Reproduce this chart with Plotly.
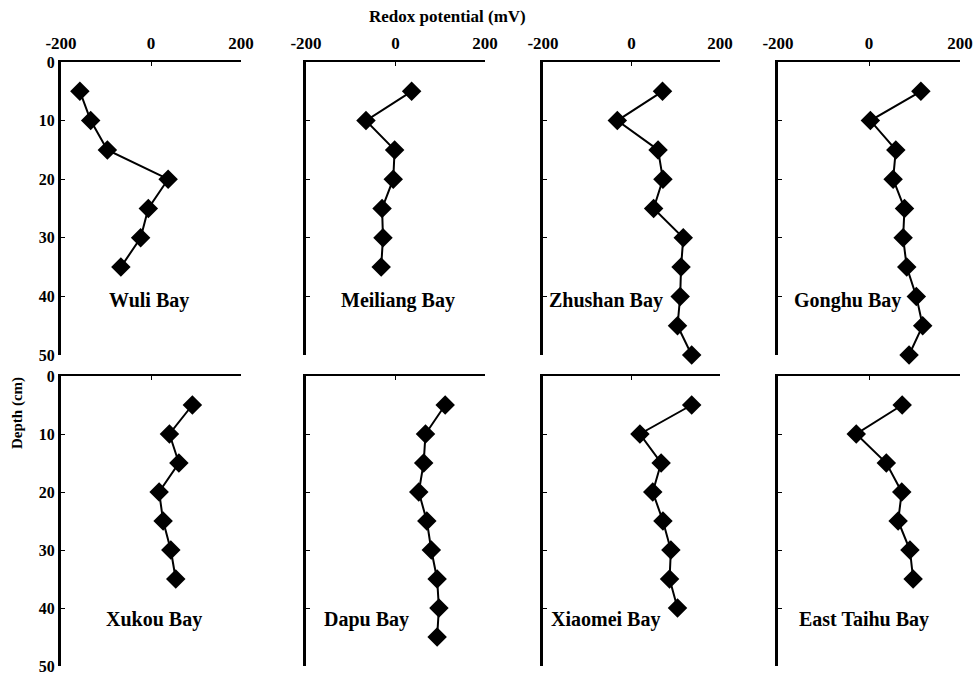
import plotly.graph_objects as go

# Redox potential (mV) profiles against sediment depth (cm) at eight bays
bays = ["Wuli Bay", "Meiliang Bay", "Zhushan Bay", "Gonghu Bay",
        "Xukou Bay", "Dapu Bay", "Xiaomei Bay", "East Taihu Bay"]

depth_wuli = [5, 10, 15, 20, 25, 30, 35]
eh_wuli = [-158, -134, -97, 38, -6, -23, -67]

depth_meiliang = [5, 10, 15, 20, 25, 30, 35]
eh_meiliang = [36, -66, -2, -5, -30, -28, -32]

depth_zhushan = [5, 10, 15, 20, 25, 30, 35, 40, 45, 50]
eh_zhushan = [70, -32, 60, 71, 50, 117, 112, 110, 104, 136]

depth_gonghu = [5, 10, 15, 20, 25, 30, 35, 40, 45, 50]
eh_gonghu = [114, 3, 59, 53, 78, 75, 83, 104, 118, 88]

depth_xukou = [5, 10, 15, 20, 25, 30, 35]
eh_xukou = [92, 41, 62, 18, 27, 44, 55]

depth_dapu = [5, 10, 15, 20, 25, 30, 35, 40, 45]
eh_dapu = [111, 67, 63, 52, 70, 80, 93, 97, 93]

depth_xiaomei = [5, 10, 15, 20, 25, 30, 35, 40]
eh_xiaomei = [136, 19, 67, 48, 71, 89, 86, 104]

depth_east = [5, 10, 15, 20, 25, 30, 35]
eh_east = [73, -28, 38, 72, 64, 90, 97]

x_ticks = [-200, 0, 200]
x_tick_text = ["-200", "0", "200"]
y_ticks = [0, 10, 20, 30, 40, 50]

profiles = [
    (depth_wuli, eh_wuli), (depth_meiliang, eh_meiliang),
    (depth_zhushan, eh_zhushan), (depth_gonghu, eh_gonghu),
    (depth_xukou, eh_xukou), (depth_dapu, eh_dapu),
    (depth_xiaomei, eh_xiaomei), (depth_east, eh_east),
]

W, H = 974, 676
col_px = [(61, 241), (306, 485), (543, 720), (778, 960)]
row_px = [(62, 355), (376, 666)]
# label centre (pixel x, pixel y) for each panel name
label_px = [(149, 300), (398, 300), (606, 300), (847, 300),
            (154, 619), (366, 619), (605, 619), (864, 619)]

FONT = "Times New Roman"

fig = go.Figure()
layout = {}
for i, (depth, eh) in enumerate(profiles):
    r, c = divmod(i, 4)
    n = i + 1
    xa = "x" if n == 1 else f"x{n}"
    ya = "y" if n == 1 else f"y{n}"
    fig.add_trace(go.Scatter(
        x=eh, y=depth, xaxis=xa, yaxis=ya, mode="lines+markers",
        line=dict(color="black", width=2),
        marker=dict(symbol="diamond", size=15, color="black"),
        cliponaxis=False, showlegend=False, hoverinfo="x+y",
    ))
    x0, x1 = col_px[c]
    y0, y1 = row_px[r]
    xkey = "xaxis" if n == 1 else f"xaxis{n}"
    ykey = "yaxis" if n == 1 else f"yaxis{n}"
    layout[xkey] = dict(
        domain=[x0 / W, x1 / W], anchor=ya, range=[-200, 200],
        side="top", tickvals=x_ticks, ticktext=x_tick_text,
        showticklabels=(r == 0),
        ticks="inside", ticklen=4, tickwidth=1, tickcolor="black",
        showline=True, linecolor="black", linewidth=2, ticklabelstandoff=4,
        showgrid=False, zeroline=False, fixedrange=True, automargin=False,
        ticklabeloverflow="allow",
        tickfont=dict(family=FONT, size=17, color="black", weight="bold"),
    )
    layout[ykey] = dict(
        domain=[1 - y1 / H, 1 - y0 / H], anchor=xa, range=[50, 0],
        tickvals=y_ticks, showticklabels=(c == 0),
        ticks="inside", ticklen=4, tickwidth=1, tickcolor="black",
        showline=True, linecolor="black", linewidth=3,
        showgrid=False, zeroline=False, fixedrange=True, automargin=False,
        ticklabeloverflow="allow",
        tickfont=dict(family=FONT, size=16, color="black", weight="bold"),
    )

annotations = []
for name, (lx, ly) in zip(bays, label_px):
    annotations.append(dict(
        text=name, x=lx / W, y=1 - ly / H, xref="paper", yref="paper",
        showarrow=False, xanchor="center", yanchor="middle",
        font=dict(family=FONT, size=20, color="black", weight="bold"),
    ))
annotations.append(dict(
    text="Redox potential (mV)", x=447 / W, y=1 - 16 / H,
    xref="paper", yref="paper", showarrow=False,
    xanchor="center", yanchor="middle",
    font=dict(family=FONT, size=17, color="black", weight="bold"),
))
annotations.append(dict(
    text="Depth (cm)", x=18 / W, y=1 - 413 / H, textangle=-90,
    xref="paper", yref="paper", showarrow=False,
    xanchor="center", yanchor="middle",
    font=dict(family=FONT, size=15, color="black", weight="bold"),
))

fig.update_layout(
    width=W, height=H, margin=dict(l=0, r=0, t=0, b=0),
    paper_bgcolor="white", plot_bgcolor="white",
    annotations=annotations, **layout,
)

fig.write_html("out.html")
